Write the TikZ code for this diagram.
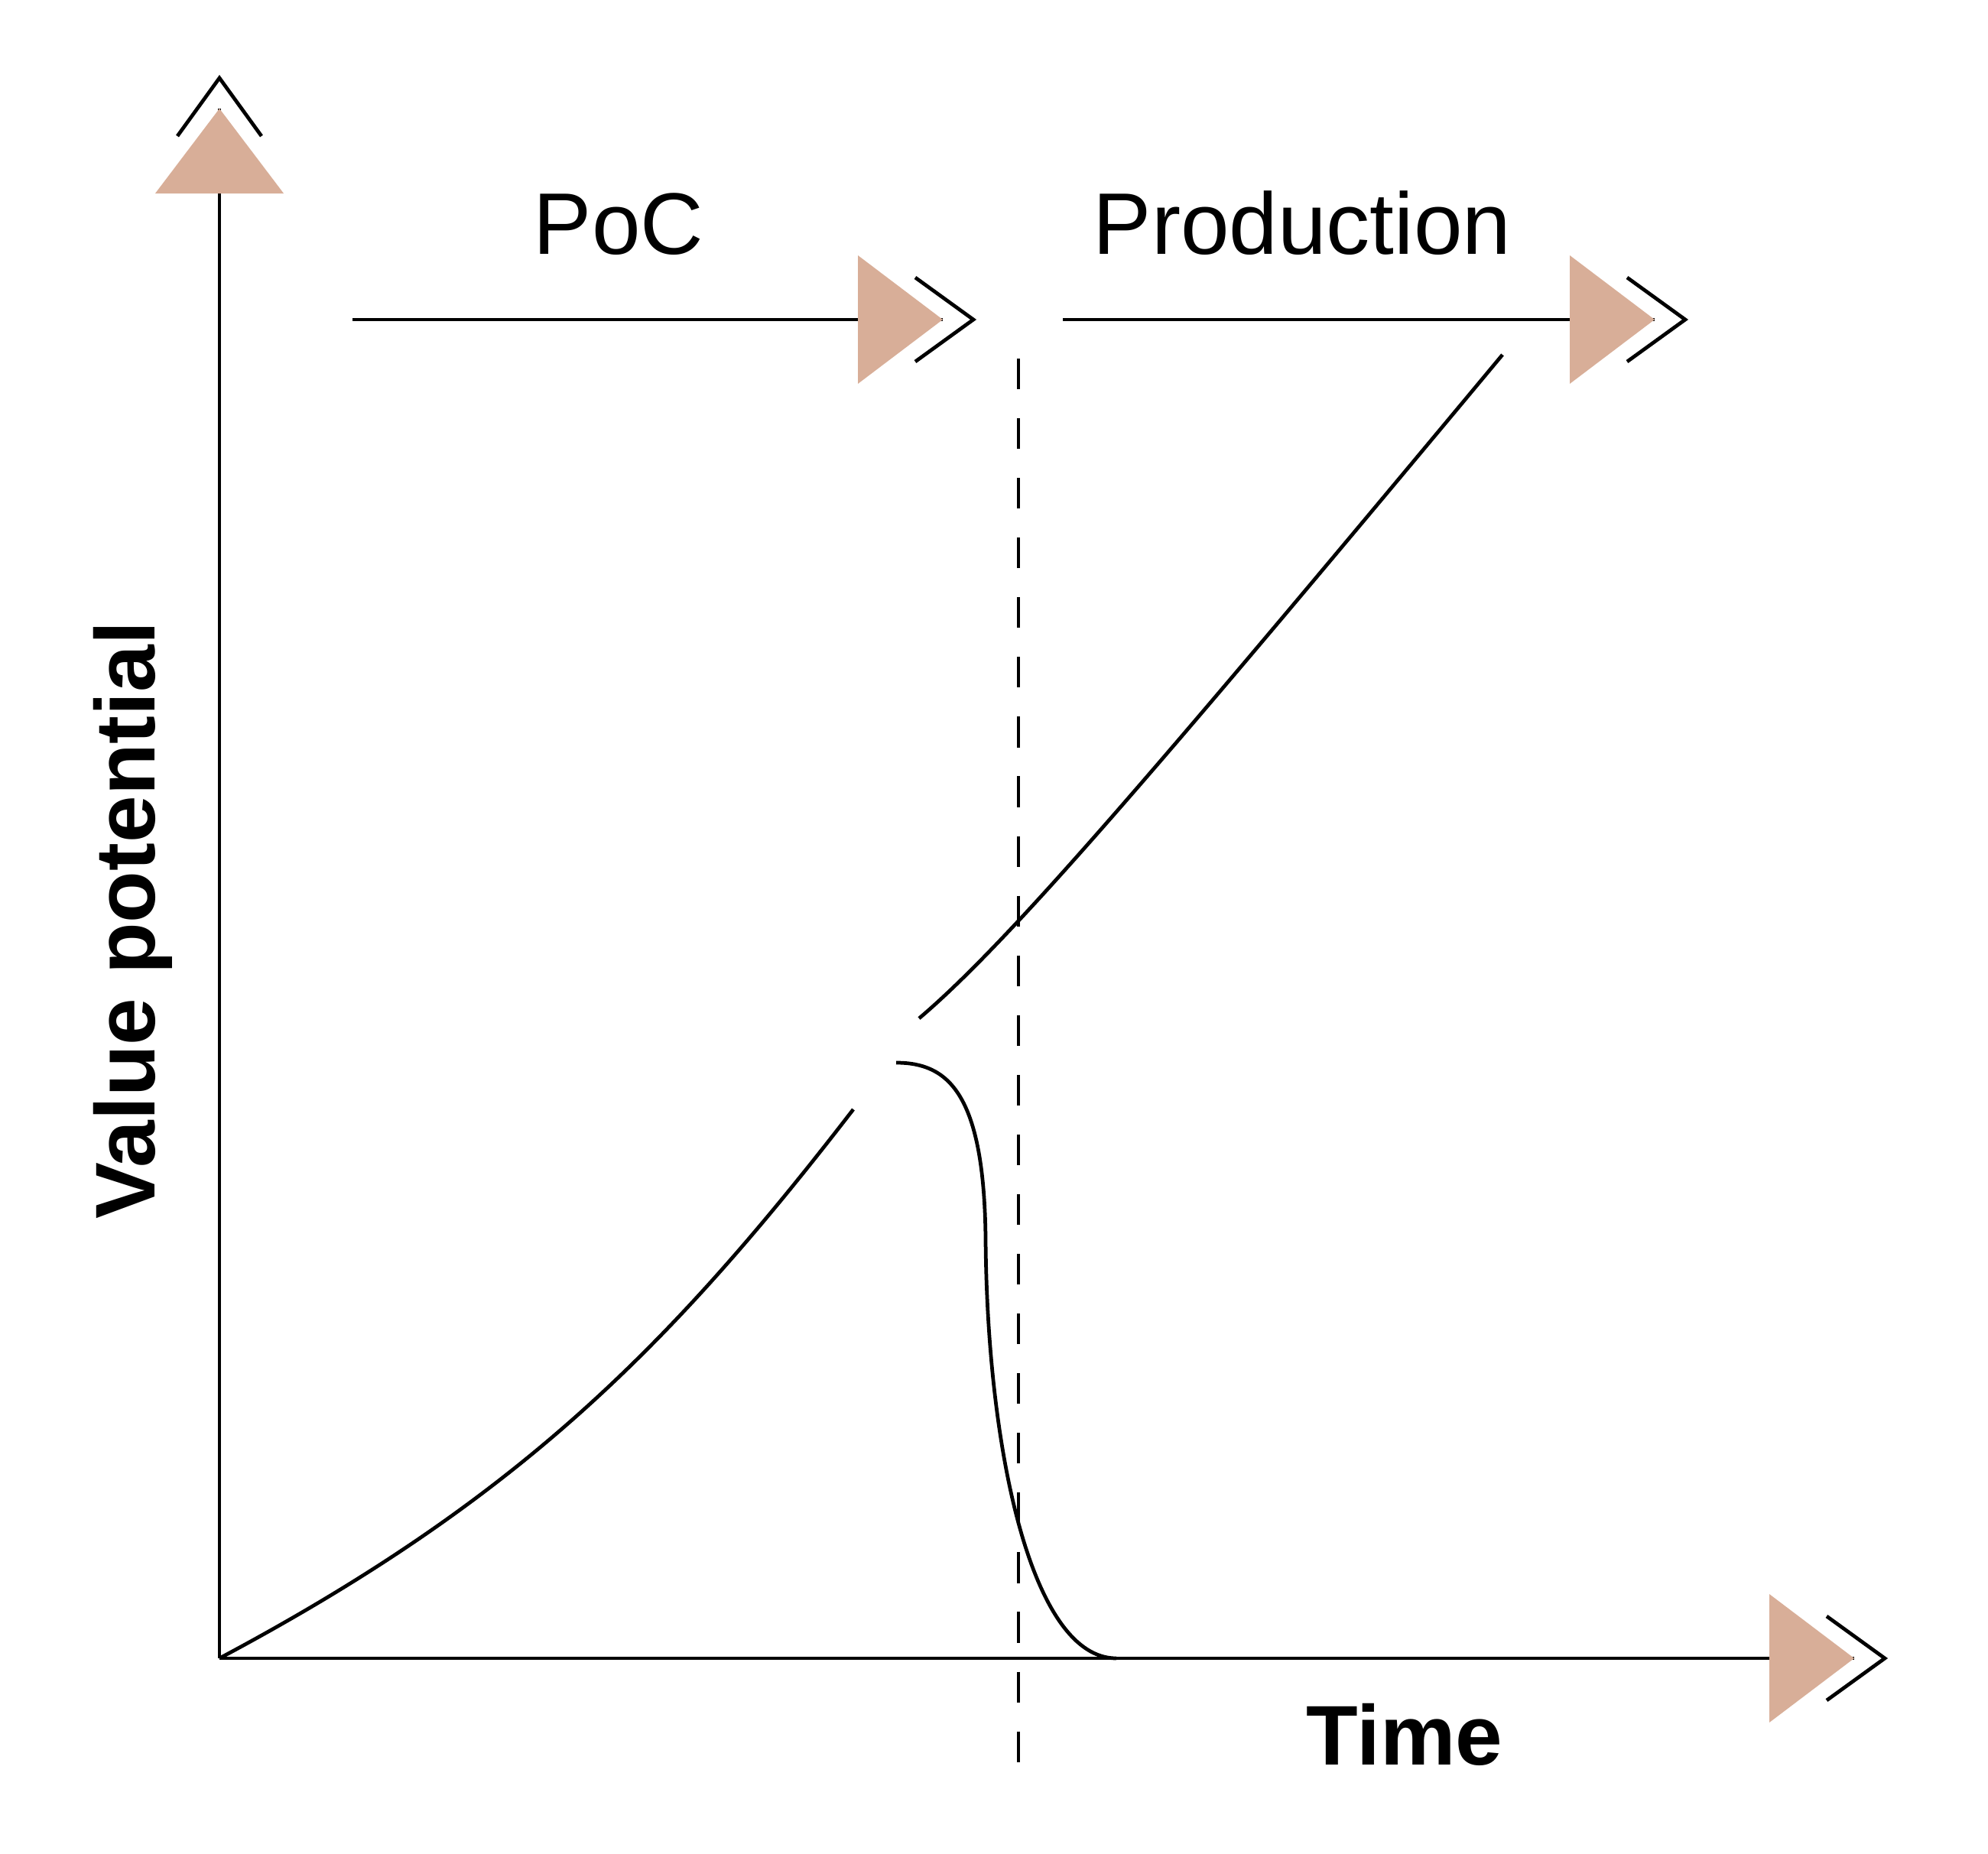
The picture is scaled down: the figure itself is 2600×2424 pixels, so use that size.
\documentclass[tikz,border=0pt]{standalone}
\usepackage{fontspec}
\setmainfont{Liberation Sans}
\definecolor{tipfill}{RGB}{216,174,152}
\tikzset{
  tipmark/.pic={
    \fill [tipfill] (0,0) -- (-111,-84) -- (-111,84) -- cycle;
    \draw [black] (-36,-55) -- (40,0) -- (-36,55);
  },
  phase/.style={inner sep=0pt, anchor=base, font=\fontsize{32.5}{39}\selectfont},
  axislabel/.style={inner sep=0pt, anchor=base, font=\fontsize{31.5}{38}\selectfont\bfseries}
}
\begin{document}
\begin{tikzpicture}[x=0.01cm, y=0.01cm, line width=1.35pt]
\useasboundingbox (0,0) rectangle (2600,-2424);
\coordinate (origin) at (287,-2169);
\coordinate (ytip) at (287,-142);
\coordinate (xtip) at (2425,-2169);
% axes
\draw [black] (origin) -- (ytip);
\pic [rotate=90] at (ytip) {tipmark};
\draw [black] (origin) -- (xtip);
\pic at (xtip) {tipmark};
\draw (202,-1204) node [axislabel, rotate=90] (value) {Value potential};
\draw (1837,-2308) node [axislabel] (time) {Time};
% phase arrows
\coordinate (pocstart) at (461,-418);
\coordinate (poctip) at (1233,-418);
\coordinate (prodstart) at (1390,-418);
\coordinate (prodtip) at (2164,-418);
\draw [black] (pocstart) -- (poctip);
\pic at (poctip) {tipmark};
\draw [black] (prodstart) -- (prodtip);
\pic at (prodtip) {tipmark};
\draw (809,-332) node [phase] (poc) {PoC};
\draw (1703,-332) node [phase] (prod) {Production};
% handover line
\coordinate (handtop) at (1332,-469);
\coordinate (handbot) at (1332,-2308);
\draw [black, dash pattern=on 11.4pt off 10.8pt] (handtop) -- (handbot);
% value curves
\coordinate (pocend) at (1116,-1451);
\coordinate (prodbegin) at (1202,-1332);
\coordinate (prodend) at (1965,-464);
\coordinate (dropbegin) at (1172,-1390);
\coordinate (dropmid) at (1289,-1620);
\coordinate (dropend) at (1460,-2169);
\draw [black] (origin) .. controls (670,-1965) and (870,-1770) .. (pocend);
\draw [black] (prodbegin) .. controls (1320,-1232) and (1515,-1004) .. (prodend);
\draw [black] (dropbegin) .. controls (1240,-1390) and (1287,-1430) .. (dropmid)
  .. controls (1291,-1900) and (1350,-2169) .. (dropend);
\end{tikzpicture}
\end{document}
